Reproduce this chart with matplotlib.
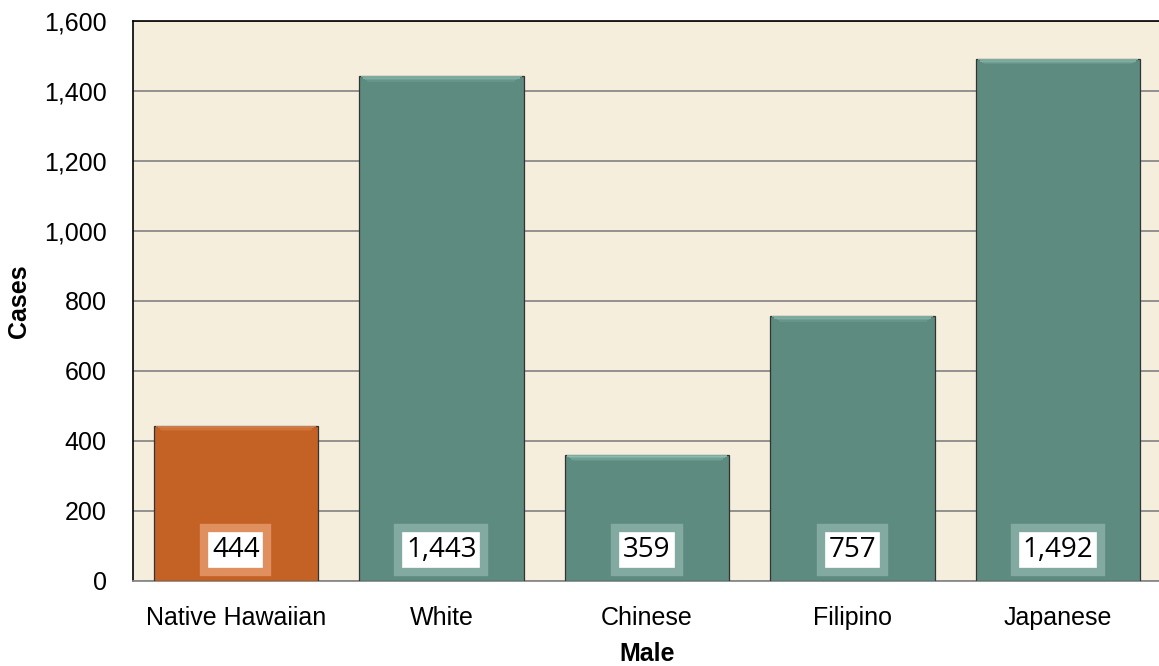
import matplotlib
matplotlib.use("Agg")
import matplotlib.pyplot as plt
from matplotlib.ticker import FuncFormatter

categories = ["Native Hawaiian", "White", "Chinese", "Filipino", "Japanese"]
values = [444, 1443, 359, 757, 1492]
labels = ["444", "1,443", "359", "757", "1,492"]
colors = ["#C46226", "#5E8B80", "#5E8B80", "#5E8B80", "#5E8B80"]
box_edges = ["#E0905E", "#82AAA1", "#82AAA1", "#82AAA1", "#82AAA1"]
highlights = ["#F29A60", "#9CD2C2", "#9CD2C2", "#9CD2C2", "#9CD2C2"]

plt.rcParams['font.family'] = ['Liberation Sans', 'DejaVu Sans']

fig = plt.figure(figsize=(11.59, 6.66), dpi=100)
ax = fig.add_axes([133/1159, 1-581/666, 1028/1159, 560/666])
ax.set_facecolor("#F5EEDD")

x = range(len(categories))
ax.bar(x, values, width=0.8, color=colors, edgecolor="#333333", linewidth=0.9, zorder=3)
# top bevel highlight (fading bands)
for i, v in enumerate(values):
    for k, a in enumerate([0.75, 0.5, 0.3, 0.15]):
        ax.bar(i, 4, bottom=v - 4 * (k + 1), width=0.8 - 0.02 * (k + 1), color=highlights[i],
               alpha=a, linewidth=0, zorder=4)

ax.set_ylim(0, 1600)
ax.set_xlim(-0.5, 4.5)
ax.set_yticks(range(0, 1601, 200))
ax.yaxis.set_major_formatter(FuncFormatter(lambda v, p: f"{int(v):,}"))
ax.grid(axis='y', color="#8a8a8a", linewidth=1.3, zorder=0)
ax.set_axisbelow(True)
ax.set_xticks(list(x))
ax.set_xticklabels(categories)
ax.tick_params(axis='both', length=0, labelsize=18)
ax.tick_params(axis='x', pad=18)
ax.tick_params(axis='y', pad=19)

for s in ["left", "top"]:
    ax.spines[s].set_color("black")
    ax.spines[s].set_linewidth(1.2)
ax.spines["bottom"].set_color("#8a8a8a")
ax.spines["bottom"].set_linewidth(1.3)
ax.spines["right"].set_visible(False)

for i, lab in enumerate(labels):
    ax.text(i, 88, lab, ha="center", va="center", fontsize=20,
            family=["Open Sans", "DejaVu Sans"], zorder=6,
            bbox=dict(boxstyle="square,pad=0.28", facecolor="white",
                      edgecolor=box_edges[i], linewidth=6))

ax.set_ylabel("Cases", fontsize=18, fontweight="bold")
ax.yaxis.set_label_coords((31 - 133) / 1028, 0.5)
ax.set_xlabel("Male", fontsize=18, fontweight="bold")
ax.xaxis.set_label_coords(0.5, (581 - 642) / 560)

fig.savefig("out.png", dpi=100)
